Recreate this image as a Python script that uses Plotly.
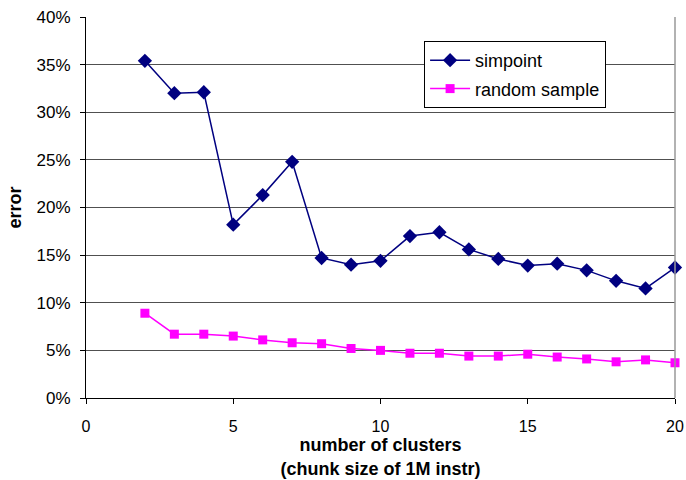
import plotly.graph_objects as go

# Number of clusters (chunk size of 1M instructions)
clusters = list(range(2, 21))

# Error (%) for each selection method
simpoint_error = [35.4, 32.0, 32.1, 18.2, 21.3, 24.8, 14.7, 14.0, 14.4, 17.0,
                  17.4, 15.6, 14.6, 13.9, 14.1, 13.4, 12.3, 11.5, 13.7]
random_error = [8.9, 6.7, 6.7, 6.5, 6.1, 5.8, 5.7, 5.2, 5.0, 4.7,
                4.7, 4.4, 4.4, 4.6, 4.3, 4.1, 3.8, 4.0, 3.7]

y_tick_vals = [0, 5, 10, 15, 20, 25, 30, 35, 40]
y_tick_text = [f"{v}%" for v in y_tick_vals]
x_tick_vals = [0, 5, 10, 15, 20]

font_family = "Liberation Sans, Arial, sans-serif"

fig = go.Figure()
fig.add_trace(go.Scatter(
    x=clusters, y=simpoint_error, name="simpoint", mode="lines+markers",
    legendgroup="a",
    line=dict(color="#000080", width=1.5),
    marker=dict(symbol="diamond", size=11, color="#000080"),
    cliponaxis=False,
))
fig.add_trace(go.Scatter(
    x=clusters, y=random_error, name="random sample", mode="lines+markers",
    legendgroup="b",
    line=dict(color="#FF00FF", width=1.5),
    marker=dict(symbol="square", size=9, color="#FF00FF"),
    cliponaxis=False,
))

fig.update_layout(
    width=686, height=480,
    margin=dict(l=86, r=11, t=17, b=82),
    paper_bgcolor="white", plot_bgcolor="white",
    font=dict(family=font_family, size=16, color="black"),
    showlegend=True,
    legend=dict(
        x=0.574, y=0.937, xanchor="left", yanchor="top",
        bgcolor="white", bordercolor="black", borderwidth=1,
        font=dict(size=18), traceorder="grouped", tracegroupgap=2,
        itemwidth=40,
    ),
    xaxis=dict(
        range=[0, 20], tickvals=x_tick_vals, ticks="outside", ticklen=5,
        tickcolor="black", showline=True, linecolor="black", linewidth=1,
        showgrid=False, zeroline=False, automargin=False,
        ticklabelstandoff=9,
        title=dict(text="<b>number of clusters<br>(chunk size of 1M instr)</b>",
                   font=dict(size=18), standoff=0),
    ),
    yaxis=dict(
        range=[0, 40], tickvals=y_tick_vals, ticktext=y_tick_text,
        ticks="outside", ticklen=5, tickcolor="black", tickfont=dict(size=17),
        showline=True, linecolor="black", linewidth=1,
        showgrid=True, gridcolor="#505050", gridwidth=1, zeroline=False,
        automargin=False, ticklabelstandoff=6,
        title=dict(text="<b>error</b>", font=dict(size=18), standoff=10),
    ),
)

# Gray frame along the right edge of the plot area
fig.add_shape(type="line", xref="paper", yref="paper", x0=1, x1=1, y0=0, y1=1,
              line=dict(color="#999999", width=1.5))

fig.write_html("out.html")
